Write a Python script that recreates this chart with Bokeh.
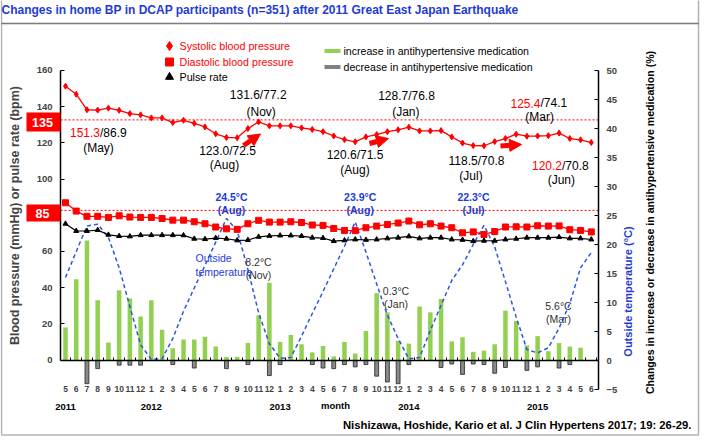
import math
from bokeh.plotting import figure
from bokeh.models import (Range1d, LinearAxis, FixedTicker, Label, BoxAnnotation,
                          Arrow, NormalHead)
from bokeh.embed import file_html
from bokeh.resources import INLINE
from bokeh.core.properties import value

# ---------------- data ----------------
month_labels = ["5", "6", "7", "8", "9", "10", "11", "12",
                "1", "2", "3", "4", "5", "6", "7", "8", "9", "10", "11", "12",
                "1", "2", "3", "4", "5", "6", "7", "8", "9", "10", "11", "12",
                "1", "2", "3", "4", "5", "6", "7", "8", "9", "10", "11", "12",
                "1", "2", "3", "4", "5", "6"]
year_labels = ["2011", "2012", "2013", "2014", "2015"]
year_first_month = [0, 8, 20, 32, 44]

systolic = [151.3, 146.9, 138.3, 138.1, 139.2, 138.0, 136.2, 135.5, 133.8, 133.8,
            131.2, 132.5, 130.8, 128.8, 125.0, 123.0, 122.8, 127.9, 131.6, 129.4,
            129.4, 129.4, 128.3, 127.4, 126.2, 123.8, 121.8, 120.6, 123.3, 124.6,
            126.2, 127.2, 128.7, 126.6, 126.6, 126.8, 123.3, 119.9, 118.5, 118.4,
            120.7, 122.4, 124.8, 123.7, 123.8, 124.0, 125.4, 122.4, 121.7, 120.2]
diastolic = [86.9, 82.3, 79.4, 79.4, 78.8, 79.7, 79.0, 78.8, 78.8, 78.2,
             77.3, 77.3, 76.4, 75.3, 73.5, 72.5, 72.2, 75.3, 77.2, 76.2,
             76.2, 76.4, 76.0, 74.6, 74.4, 72.7, 71.6, 71.5, 73.1, 74.0,
             74.9, 75.7, 76.8, 74.7, 75.3, 74.0, 73.1, 70.3, 70.8, 69.4,
             71.0, 73.5, 73.6, 73.5, 74.2, 74.0, 74.1, 72.0, 71.6, 70.8]
pulse = [75.3, 71.3, 71.3, 71.8, 69.2, 68.5, 68.3, 69.0, 69.0, 69.0,
         69.0, 68.9, 67.0, 66.8, 67.4, 67.0, 66.1, 66.3, 68.1, 68.6,
         68.8, 68.8, 68.5, 67.6, 67.4, 65.7, 66.1, 66.6, 66.4, 66.6,
         67.2, 67.6, 68.3, 67.2, 67.6, 67.6, 66.6, 66.4, 65.7, 65.9,
         65.9, 66.6, 67.0, 67.6, 67.6, 67.6, 67.9, 67.2, 67.2, 66.6]
temperature = [14.3, 18.8, 23.2, 23.5, 21.2, 16.0, 9.3, 2.7, 0.2, 0.3,
               3.8, 8.5, 12.5, 16.4, 20.4, 24.5, 22.4, 15.7, 8.2, 2.9,
               0.4, 0.5, 4.2, 8.1, 11.9, 15.8, 19.7, 23.9, 18.7, 13.2,
               7.8, 3.8, 0.3, 0.5, 5.2, 9.5, 13.8, 16.5, 20.0, 23.3,
               19.6, 13.6, 7.5, 1.9, 1.3, 2.2, 5.6, 9.8, 16.0, 18.6]
med_increase = [5.7, 14.0, 20.7, 10.4, 3.1, 12.1, 10.7, 7.6, 10.4, 5.3,
                2.1, 3.6, 3.6, 4.1, 2.4, 0.6, 0.6, 3.0, 7.8, 13.4,
                3.2, 4.4, 2.8, 1.4, 2.5, 0.7, 3.2, 1.2, 5.1, 11.6,
                8.3, 3.4, 2.9, 9.3, 8.3, 10.6, 3.3, 4.0, 1.5, 1.7,
                2.8, 8.6, 6.8, 2.6, 4.2, 1.6, 3.0, 2.4, 2.2, None]
med_decrease = [None, None, -4.0, -1.4, None, -0.8, -0.8, -0.8, None, None,
                -0.7, None, -1.3, None, None, -1.4, None, -0.7, None, -2.6,
                -0.7, None, None, -0.7, -1.3, -1.4, -0.7, -1.1, -0.7, -2.7,
                -3.7, -4.0, -0.7, None, None, -1.2, -0.6, -2.4, -0.6, -0.7,
                -2.2, -1.2, None, -1.7, -1.1, None, -1.3, -0.7, None, None]
left_ticks = [0, 20, 40, 60, 100, 120, 140, 160]
right_ticks = [-5, 0, 5, 10, 15, 20, 25, 30, 35, 40, 45, 50]
target_labels = ["135", "85"]
target_lines_drawn = [132.7, 82.7]   # where the dotted target lines sit in the picture

idx = list(range(len(month_labels)))

# ---------------- geometry (window pixels) ----------------
W, H, M = 701, 437, 8
X0, DX = 73.0, 10.73          # month 0 at x=73, 10.73 px per month
P0, DP = 368.0, 5.8           # right axis: 0 at y=368, 5.8 px per unit
B0, DB = 367.5, 1.8094        # left axis: 0 at y=367.5
AX_L, AX_R = 68, 606          # axis lines


def xd(px):
    return (px - X0) / DX


def yd(py):
    return (P0 - py) / DP


FB = "Liberation Sans"
RED = "#ff0000"
BLUE = "#1f3bd6"
GREEN = "#92d050"
GRAY = "#8a8a8a"

# frame covers the whole canvas; axes sit at fixed locations inside it
p = figure(width=W, height=H, output_backend="svg", toolbar_location=None, title=None,
           x_range=Range1d(xd(M), xd(M + W)),
           y_range=Range1d((B0 - (M + H)) / DB, (B0 - M) / DB),
           x_axis_location=None, y_axis_location=None,
           min_border_left=0, min_border_right=0, min_border_top=0, min_border_bottom=0)
p.extra_y_ranges = {"pct": Range1d(yd(M + H), yd(M))}
p.grid.visible = False
p.outline_line_color = None
p.background_fill_color = "white"
p.border_fill_color = "white"

lax = LinearAxis(ticker=FixedTicker(ticks=left_ticks), bounds=(0, 160),
                 fixed_location=xd(AX_L),
                 major_tick_in=4, major_tick_out=0, minor_tick_in=0, minor_tick_out=0,
                 axis_line_width=1.5, major_tick_line_width=1.2,
                 major_label_standoff=8,
                 major_label_text_font=FB, major_label_text_font_size="9.5px",
                 major_label_text_font_style="bold",
                 axis_label="Blood pressure (mmHg) or pulse rate (bpm)",
                 axis_label_text_font=FB, axis_label_text_font_size="12.5px",
                 axis_label_text_font_style="bold", axis_label_standoff=12)
p.add_layout(lax, "left")

rax = LinearAxis(y_range_name="pct", ticker=FixedTicker(ticks=right_ticks), bounds=(-5, 50),
                 fixed_location=xd(AX_R),
                 major_tick_in=4, major_tick_out=0, minor_tick_in=0, minor_tick_out=0,
                 axis_line_width=1.5, major_tick_line_width=1.2,
                 major_label_standoff=8,
                 major_label_text_font=FB, major_label_text_font_size="9.5px",
                 major_label_text_font_style="bold")
p.add_layout(rax, "right")

bax = LinearAxis(y_range_name="pct", fixed_location=0,
                 ticker=FixedTicker(ticks=idx, minor_ticks=[i + 0.5 for i in idx]),
                 major_label_overrides={i: m for i, m in zip(idx, month_labels)},
                 bounds=(xd(AX_L), xd(AX_R)),
                 major_tick_in=0, major_tick_out=0, minor_tick_in=3, minor_tick_out=0,
                 minor_tick_line_width=1,
                 axis_line_width=1.5, major_label_standoff=25,
                 major_label_text_font=FB, major_label_text_font_size="8.5px",
                 major_label_text_font_style="bold")
p.add_layout(bax, "below")

# bars
inc_x = [i for i, v in zip(idx, med_increase) if v is not None]
inc_v = [v for v in med_increase if v is not None]
dec_x = [i for i, v in zip(idx, med_decrease) if v is not None]
dec_v = [v for v in med_decrease if v is not None]
p.vbar(x=inc_x, top=inc_v, bottom=0, width=0.42, y_range_name="pct",
       fill_color=GREEN, line_color=None)
p.vbar(x=dec_x, top=0, bottom=dec_v, width=0.36, y_range_name="pct",
       fill_color=GRAY, line_color="#222222", line_width=0.8)

# outside temperature
p.line(idx, temperature, y_range_name="pct", line_color="#2a55e6", line_width=1.5,
       line_dash="4 3")

# target lines (span the plot between the two axes)
for loc in target_lines_drawn:
    p.line([xd(AX_L), xd(AX_R)], [loc, loc], line_color=RED, line_width=1, line_dash="2 2")

# BP series
p.line(idx, pulse, line_color="black", line_width=1.2)
p.scatter(idx, pulse, marker="triangle", size=5, color="black")
p.line(idx, diastolic, line_color=RED, line_width=1.3)
p.scatter(idx, diastolic, marker="square", size=6, color=RED)
p.line(idx, systolic, line_color=RED, line_width=1.3)
p.scatter(idx, systolic, marker="diamond", size=6, color=RED)

# year labels
p.text(x=year_first_month, y=[yd(414)] * len(year_labels), text=year_labels,
       y_range_name="pct", text_font=value(FB), text_font_size="9.5px",
       text_font_style="bold", text_align="center", text_baseline="middle",
       text_color="black")


def txt(t, xpx, ypx, color="black", size=11.0, bold=False, align="center", angle=0.0):
    p.add_layout(Label(x=xd(xpx), y=yd(ypx), y_range_name="pct", text=t, text_color=color,
                       text_font_size=f"{size}px", text_font=FB,
                       text_font_style="bold" if bold else "normal",
                       text_align=align, text_baseline="middle", angle=angle))


txt("month", 343, 413, size=9.5, bold=True)

# outer box and title
p.add_layout(BoxAnnotation(left=xd(9), right=xd(706), top=yd(31), bottom=yd(442.5),
                           y_range_name="pct", fill_alpha=0, line_color="black", line_width=1.5))
p.add_layout(BoxAnnotation(left=xd(9), right=xd(706), top=yd(-20), bottom=yd(31),
                           y_range_name="pct", fill_alpha=0, line_color="black", line_width=1.5))
txt("Changes in home BP in DCAP participants (n=351) after 2011 Great East Japan Earthquake",
    9, 17, color=BLUE, size=12, bold=True, align="left")
txt("Nishizawa, Hoshide, Kario et al.  J Clin Hypertens 2017; 19: 26-29.",
    702, 432, size=11.3, bold=True, align="right")

# right axis titles
txt("Outside temperature (\u00b0C)", 635, 299, color=BLUE, size=11, bold=True,
    angle=math.pi / 2)
txt("Changes in increase or decrease in antihypertensive medication (%)", 657, 230,
    size=10.6, bold=True, angle=math.pi / 2)

# red target boxes
for lab, top, bot in zip(target_labels, [120, 212], [139, 229]):
    p.add_layout(BoxAnnotation(left=xd(34), right=xd(AX_L), top=yd(top), bottom=yd(bot),
                               y_range_name="pct", fill_color=RED, fill_alpha=1,
                               line_color=None))
    txt(lab, 50, (top + bot) / 2, color="white", size=12.5, bold=True)

# legend
p.scatter([xd(177)], [yd(53.5)], y_range_name="pct", marker="diamond", size=9, color=RED)
p.scatter([xd(177)], [yd(69.5)], y_range_name="pct", marker="square", size=8, color=RED)
p.scatter([xd(177)], [yd(84.5)], y_range_name="pct", marker="triangle", size=8, color="black")
txt("Systolic blood pressure", 187, 53.5, color=RED, size=10.7, align="left")
txt("Diastolic blood pressure", 187, 69.5, color=RED, size=10.7, align="left")
txt("Pulse rate", 187, 84.5, color="black", size=10.7, align="left")
p.line([xd(332), xd(348)], [yd(58.5)] * 2, y_range_name="pct", line_color=GREEN, line_width=4)
p.line([xd(332), xd(348)], [yd(74.5)] * 2, y_range_name="pct", line_color="#808080", line_width=4)
txt("increase in antihypertensive medication", 351, 58.5, size=10.6, align="left")
txt("decrease in antihypertensive medication", 351, 74.5, size=10.6, align="left")

# BP annotations
BP = 12
txt("151.3", 107.5, 140, color=RED, size=BP, align="right")
txt("/86.9", 107.5, 140, size=BP, align="left")
txt("(May)", 106, 155, size=BP)
txt("123.0/72.5", 235, 158, size=BP)
txt("(Aug)", 232, 172, size=BP)
txt("131.6/77.2", 265.7, 102.5, size=BP)
txt("(Nov)", 268.7, 119, size=BP)
txt("120.6/71.5", 362.5, 162.5, size=BP)
txt("(Aug)", 362.5, 177, size=BP)
txt("128.7/76.8", 414, 103.5, size=BP)
txt("(Jan)", 413.3, 119, size=BP)
txt("118.5/70.8", 484, 168, size=BP)
txt("(Jul)", 478.5, 183.5, size=BP)
txt("125.4", 548, 110.7, color=RED, size=BP, align="right")
txt("/74.1", 548, 110.7, size=BP, align="left")
txt("(Mar)", 547.2, 124.5, size=BP)
txt("120.2", 569.5, 173.3, color=RED, size=BP, align="right")
txt("/70.8", 569.5, 173.3, size=BP, align="left")
txt("(Jun)", 568.8, 187, size=BP)

# temperature annotations
for t, sub, xc in [("24.5\u00b0C", "(Aug)", 239), ("23.9\u00b0C", "(Aug)", 367.7),
                   ("22.3\u00b0C", "(Jul)", 481)]:
    txt(t, xc, 204, color=BLUE, size=10.5, bold=True)
    txt(sub, xc, 217, color=BLUE, size=10.5, bold=True)
for t, sub, xc, yc in [("8.2\u00b0C", "(Nov)", 266, 269.5), ("0.3\u00b0C", "(Jan)", 403.5, 298.5),
                       ("5.6\u00b0C", "(Mar)", 566, 313.5)]:
    txt(t, xc, yc, color="#333333", size=10.5)
    txt(sub, xc, yc + 13, color="#333333", size=10.5)
txt("Outside", 203, 265, color=BLUE, size=10.5, align="left")
txt("temperature", 203, 279.5, color=BLUE, size=10.5, align="left")

# red arrows
for (x1, y1, x2, y2) in [(251, 153, 268, 141.5), (377, 151, 396, 146), (508, 153.5, 529, 152)]:
    p.add_layout(Arrow(end=NormalHead(size=12, fill_color=RED, line_color=RED),
                       x_start=xd(x1), y_start=yd(y1), x_end=xd(x2), y_end=yd(y2),
                       y_range_name="pct", line_color=RED, line_width=5))

open("out.html", "w").write(file_html(p, INLINE))
